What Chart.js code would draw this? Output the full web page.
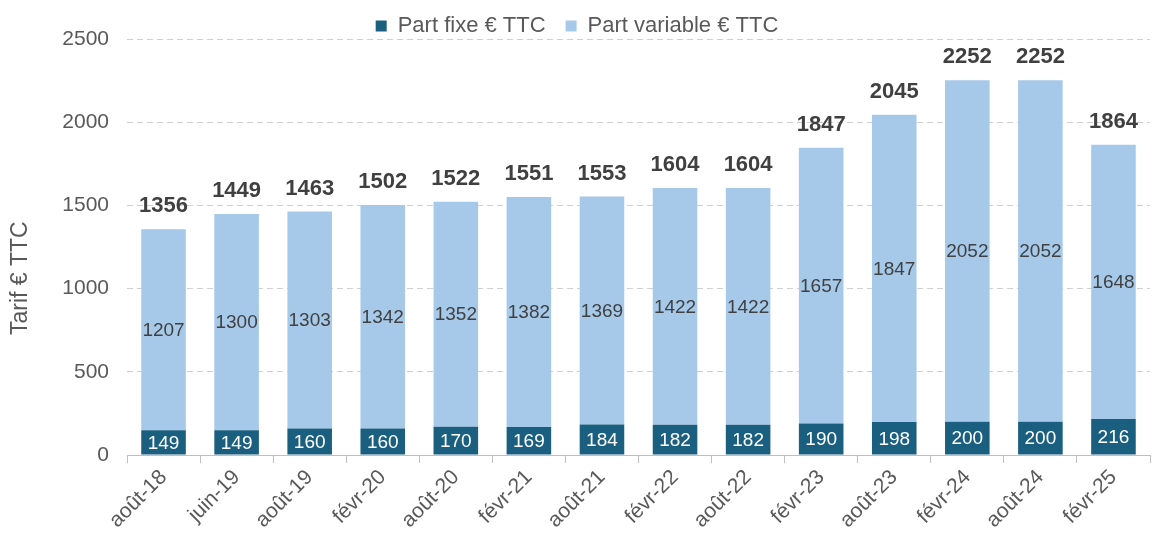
<!DOCTYPE html>
<html>
<head>
<meta charset="utf-8">
<script src="https://cdn.jsdelivr.net/npm/chart.js@4"></script>
<style>
  html, body { margin: 0; padding: 0; background: #fff; }
  #wrap { width: 1155px; height: 533px; }
</style>
</head>
<body>
<div id="wrap"><canvas id="c" width="1155" height="533"></canvas></div>
<script>
const periods = ["août-18", "juin-19", "août-19", "févr-20", "août-20", "févr-21", "août-21",
                 "févr-22", "août-22", "févr-23", "août-23", "févr-24", "août-24", "févr-25"];
const partFixe = [149, 149, 160, 160, 170, 169, 184, 182, 182, 190, 198, 200, 200, 216];
const partVariable = [1207, 1300, 1303, 1342, 1352, 1382, 1369, 1422, 1422, 1657, 1847, 2052, 2052, 1648];
const yTitle = "Tarif € TTC";

const DARK = "#1b5f80";
const LIGHT = "#a6c9ea";
const GREY_TXT = "#595959";
const FONT = "'Liberation Sans', Arial, sans-serif";

// Values inside each segment, bold total on top of the stack, and the y title
// (drawn by hand because in the original it sits below the axis middle).
const barLabels = {
  id: "barLabels",
  afterDatasetsDraw(chart) {
    const ctx = chart.ctx;
    const area = chart.chartArea;
    ctx.save();
    ctx.textAlign = "center";
    ctx.textBaseline = "middle";
    chart.data.datasets.forEach((ds, di) => {
      const meta = chart.getDatasetMeta(di);
      ctx.font = "19px " + FONT;
      ctx.fillStyle = di === 0 ? "#ffffff" : "#404040";
      meta.data.forEach((bar, i) => {
        ctx.fillText(String(ds.data[i]), bar.x, (bar.y + bar.base) / 2 + 1);
      });
    });
    const top = chart.getDatasetMeta(chart.data.datasets.length - 1);
    ctx.font = "bold 22px " + FONT;
    ctx.fillStyle = "#404040";
    ctx.textBaseline = "alphabetic";
    top.data.forEach((bar, i) => {
      ctx.fillText(String(partFixe[i] + partVariable[i]), bar.x, bar.y - 17);
    });

    ctx.translate(21, area.top + area.height * 0.575);
    ctx.rotate(-Math.PI / 2);
    ctx.font = "23px " + FONT;
    ctx.fillStyle = GREY_TXT;
    ctx.textBaseline = "middle";
    ctx.fillText(yTitle, 0, 0);
    ctx.restore();
  }
};

new Chart(document.getElementById("c"), {
  type: "bar",
  data: {
    labels: periods,
    datasets: [
      { label: "Part fixe € TTC", data: partFixe, backgroundColor: DARK },
      { label: "Part variable € TTC", data: partVariable, backgroundColor: LIGHT },
    ],
  },
  options: {
    responsive: false,
    animation: false,
    devicePixelRatio: 1,
    layout: { padding: { top: -5, right: 5, left: 4, bottom: 0 } },
    datasets: { bar: { categoryPercentage: 1, barPercentage: 0.61 } },
    plugins: {
      legend: {
        position: "top",
        maxHeight: 44,
        labels: {
          font: { family: FONT, size: 22, lineHeight: 0.58 },
          color: GREY_TXT,
          boxWidth: 11,
          boxHeight: 11,
          padding: 20,
        },
      },
      tooltip: { enabled: false },
    },
    scales: {
      x: {
        stacked: true,
        grid: { drawOnChartArea: false, drawTicks: true, tickLength: 8, color: "#bfbfbf", offset: true },
        border: { display: true, color: "#bfbfbf", width: 1 },
        ticks: {
          font: { family: FONT, size: 21 },
          color: GREY_TXT,
          minRotation: 45,
          maxRotation: 45,
          padding: 2,
        },
        afterFit(scale) { scale.height = 78; },
      },
      y: {
        stacked: true,
        min: 0,
        max: 2500,
        ticks: {
          stepSize: 500,
          font: { family: FONT, size: 21 },
          color: GREY_TXT,
          padding: 18,
          callback: (v) => String(v),
        },
        grid: { color: "#d0d0d0", drawTicks: false, lineWidth: 1 },
        border: { display: false, dash: [6, 4] },
        afterFit(scale) {
          scale.width = 123;
          scale.paddingTop = 0; // let the top tick label overlap the legend band
        },
      },
    },
  },
  plugins: [barLabels],
});
</script>
</body>
</html>
